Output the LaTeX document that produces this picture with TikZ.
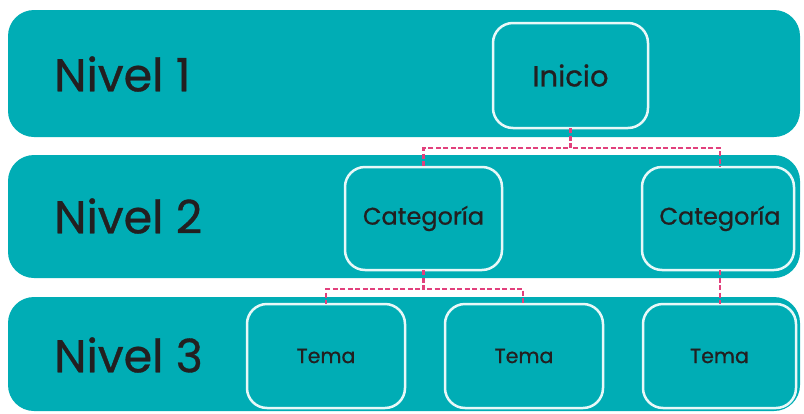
\documentclass[tikz,border=0pt]{standalone}
\usepackage{fontspec}
\setmainfont{Poppins}[FakeBold=0.8]
\definecolor{teal1}{RGB}{0,173,181}
\definecolor{pinkc}{RGB}{226,64,124}
\definecolor{boxline}{RGB}{232,248,248}
\definecolor{txt}{RGB}{35,31,32}
\begin{document}
\begin{tikzpicture}[x=1pt,y=-1pt,
  band/.style={fill=teal1,draw=none,rounded corners=26pt},
  itembox/.style={draw=boxline,line width=2.5pt,fill=teal1,rounded corners=20pt},
  lvl/.style={anchor=west,text=txt,font=\fontsize{46}{46}\selectfont,inner sep=0pt},
  itemtext/.style={text=txt,inner sep=0pt},
  conn/.style={draw=pinkc,line width=2.5pt,dash pattern=on 5pt off 2.5pt}]
\useasboundingbox (0,0) rectangle (804,413);
\fill[white] (0,0) rectangle (804,413);
% bands
\path[band] (8,10) rectangle (800,137);
\path[band] (8,155) rectangle (800,278);
\path[band] (8,297) rectangle (800,411);
% level labels
\node[lvl] (n1) at (54,74) {Nivel 1};
\node[lvl] (n2) at (54,216) {Nivel 2};
\node[lvl] (n3) at (54,355) {Nivel 3};
% boxes
\draw[itembox] (493,23) rectangle (648,128);
\node[itemtext,font=\fontsize{29}{29}\selectfont] (inicio) at (570.5,75.5) {Inicio};
\coordinate (inicioS) at (570.5,128);
\draw[itembox] (345,167) rectangle (502,270);
\node[itemtext,font=\fontsize{24}{24}\selectfont] (cat1) at (423.5,218.5) {Categoría};
\coordinate (cat1N) at (423.5,167);
\coordinate (cat1S) at (423.5,270);
\draw[itembox] (642,167) rectangle (794,270);
\node[itemtext,font=\fontsize{24}{24}\selectfont] (cat2) at (720,218.5) {Categoría};
\coordinate (cat2N) at (720,167);
\coordinate (cat2S) at (720,270);
\draw[itembox] (247,304) rectangle (405,408);
\node[itemtext,font=\fontsize{20.5}{20.5}\selectfont] (t1) at (326,356) {Tema};
\coordinate (t1N) at (326,304);
\draw[itembox] (445,304) rectangle (603,408);
\node[itemtext,font=\fontsize{20.5}{20.5}\selectfont] (t2) at (524,356) {Tema};
\coordinate (t2N) at (523,304);
\draw[itembox] (643,304) rectangle (796,408);
\node[itemtext,font=\fontsize{20.5}{20.5}\selectfont] (t3) at (719.5,356) {Tema};
\coordinate (t3N) at (720,304);
% connectors
\draw[conn] (inicioS) -- (570.5,148) -| (cat1N);
\draw[conn] (inicioS) -- (570.5,148) -| (cat2N);
\draw[conn] (cat1S) -- (423.5,289) -| (t1N);
\draw[conn] (cat1S) -- (423.5,289) -| (t2N);
\draw[conn] (cat2S) -- (t3N);
\end{tikzpicture}
\end{document}
